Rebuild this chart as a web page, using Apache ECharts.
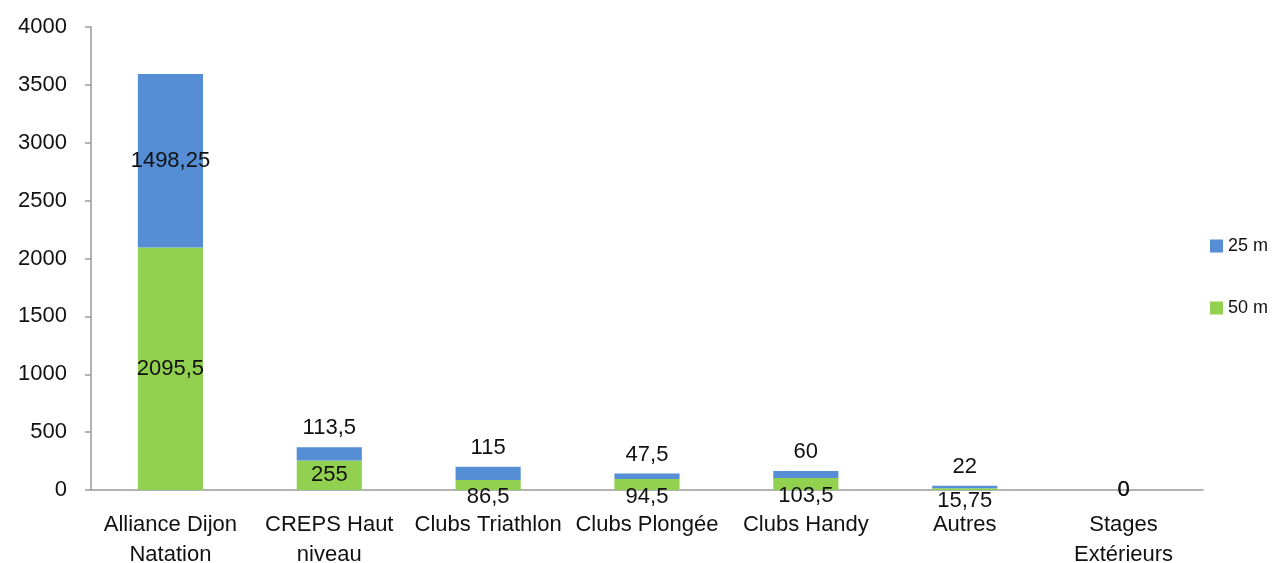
<!DOCTYPE html>
<html>
<head>
<meta charset="utf-8">
<script src="https://cdn.jsdelivr.net/npm/echarts@6/dist/echarts.min.js"></script>
<style>
  html, body { margin: 0; padding: 0; background: #fff; }
  #chart { width: 1275px; height: 563px; }
</style>
</head>
<body>
<div id="chart"></div>
<script>
// données
var categories = ['Alliance Dijon\nNatation', 'CREPS Haut\nniveau', 'Clubs Triathlon', 'Clubs Plongée', 'Clubs Handy', 'Autres', 'Stages\nExtérieurs'];
var bassin50 = [2095.5, 255, 86.5, 94.5, 103.5, 15.75, 0];
var bassin25 = [1498.25, 113.5, 115, 47.5, 60, 22, 0];
var yTicks = [0, 500, 1000, 1500, 2000, 2500, 3000, 3500, 4000];

var FONT = 'Liberation Sans';
var fmt = function (v) { return String(v).replace('.', ','); };

// étiquettes : au centre si la place suffit, sinon décalées (comme Excel)
var greenData = bassin50.map(function (v) {
  var item = { value: v };
  if (v > 0 && v < 150) item.label = { offset: [0, 12] };
  return item;
});
var blueData = bassin25.map(function (v) {
  var item = { value: v };
  if (v > 0 && v < 400) item.label = { position: 'top', distance: 8 };
  return item;
});

var labelStyle = {
  show: true,
  position: 'inside',
  color: '#111',
  fontFamily: FONT,
  fontSize: 22,
  formatter: function (p) { return fmt(p.value); }
};

var chart = echarts.init(document.getElementById('chart'));
chart.setOption({
  animation: false,
  grid: { left: 91, right: 72, top: 27, bottom: 73, outerBoundsMode: 'none', containLabel: false },
  legend: {
    orient: 'vertical',
    right: 2,
    top: 232,
    itemWidth: 13,
    itemHeight: 13,
    itemGap: 44,
    icon: 'rect',
    data: ['25 m', '50 m'],
    textStyle: { fontFamily: FONT, fontSize: 18, color: '#111' }
  },
  xAxis: {
    type: 'category',
    data: categories,
    axisLine: { lineStyle: { color: '#9a9a9a', width: 1.5 } },
    axisTick: { length: 8, lineStyle: { color: '#9a9a9a', width: 1.5 } },
    axisLabel: {
      interval: 0,
      margin: 20,
      lineHeight: 30,
      color: '#111',
      fontFamily: FONT,
      fontSize: 22
    }
  },
  yAxis: {
    type: 'value',
    min: yTicks[0],
    max: yTicks[yTicks.length - 1],
    interval: 500,
    splitLine: { show: false },
    axisLine: { show: true, lineStyle: { color: '#9a9a9a', width: 1.5 } },
    axisTick: { show: true, length: 6, lineStyle: { color: '#9a9a9a', width: 1.5 } },
    axisLabel: {
      margin: 24, color: '#111', fontFamily: FONT, fontSize: 22,
      formatter: function (v) { return String(v); }
    }
  },
  series: [
    {
      name: '50 m',
      type: 'bar',
      stack: 'total',
      barWidth: '41%',
      itemStyle: { color: '#92D050' },
      label: labelStyle,
      data: greenData
    },
    {
      name: '25 m',
      type: 'bar',
      stack: 'total',
      barWidth: '41%',
      itemStyle: { color: '#558ED5' },
      label: labelStyle,
      data: blueData
    }
  ]
});
</script>
</body>
</html>
